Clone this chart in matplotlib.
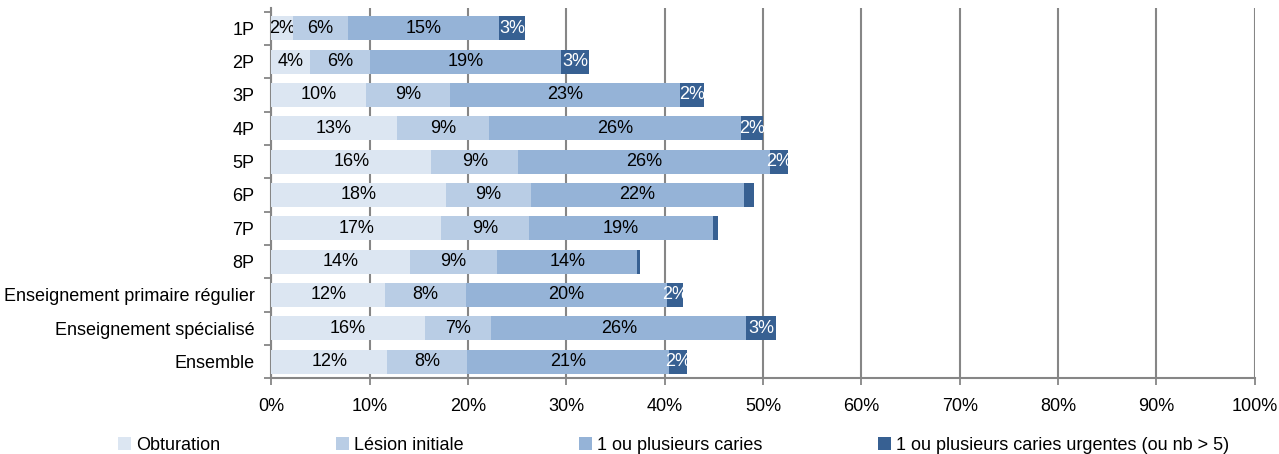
import numpy as np
import matplotlib
matplotlib.use("Agg")
import matplotlib.pyplot as plt

plt.rcParams['font.family'] = ['Liberation Sans', 'DejaVu Sans']

categories = ["1P", "2P", "3P", "4P", "5P", "6P", "7P", "8P",
              "Enseignement primaire régulier", "Enseignement spécialisé", "Ensemble"]
series_names = ["Obturation", "Lésion initiale", "1 ou plusieurs caries",
                "1 ou plusieurs caries urgentes (ou nb > 5)"]
obturation = [2.2, 3.9, 9.6, 12.8, 16.3, 17.8, 17.3, 14.1, 11.6, 15.6, 11.8]
lesion = [5.6, 6.2, 8.6, 9.4, 8.8, 8.6, 8.9, 8.9, 8.2, 6.8, 8.1]
caries = [15.4, 19.4, 23.4, 25.6, 25.6, 21.7, 18.7, 14.2, 20.4, 25.9, 20.6]
urgentes = [2.6, 2.8, 2.4, 2.2, 1.8, 1.0, 0.5, 0.3, 1.7, 3.0, 1.8]

colors = ["#dce6f2", "#b9cde5", "#95b3d7", "#376092"]
text_colors = ["black", "black", "black", "white"]
grey = "#868686"

fig = plt.figure(figsize=(12.79, 4.54), dpi=100)
ax = fig.add_axes([0.212, 0.167, 0.769, 0.815])

y = np.arange(len(categories))
left = np.zeros(len(categories))
for vals, name, col, tcol in zip([obturation, lesion, caries, urgentes], series_names, colors, text_colors):
    vals = np.array(vals)
    bars = ax.barh(y, vals, left=left, height=0.72, color=col, label=name, zorder=3)
    labels = [f"{v:.0f}%" if v >= 1.5 else "" for v in vals]
    ax.bar_label(bars, labels=labels, label_type='center', color=tcol, fontsize=13)
    left += vals

ax.set_xlim(0, 100)
ax.set_ylim(10.47, -0.6)
ax.set_xticks(np.arange(0, 101, 10))
ax.set_xticklabels([f"{v}%" for v in range(0, 101, 10)], fontsize=13)
ax.set_yticks(y)
ax.set_yticklabels(categories, fontsize=13)
ax.set_yticks(np.arange(-0.5, 11, 1), minor=True)
ax.tick_params(axis='y', which='major', length=0, pad=12)
ax.tick_params(axis='y', which='minor', length=5, color=grey, width=1.3)
ax.tick_params(axis='x', length=5, color=grey, width=1.3, pad=9)

ax.grid(axis='x', color=grey, linewidth=1.5, zorder=0)
for s in ['top', 'right']:
    ax.spines[s].set_visible(False)
for s in ['left', 'bottom']:
    ax.spines[s].set_color(grey)
    ax.spines[s].set_linewidth(1.5)

fig.legend(loc='lower center', bbox_to_anchor=(0.527, -0.035), ncol=4, frameon=False,
           fontsize=13, handlelength=0.7, handleheight=0.7, handletextpad=0.3,
           columnspacing=6.4)

fig.savefig("out.png", dpi=100)
